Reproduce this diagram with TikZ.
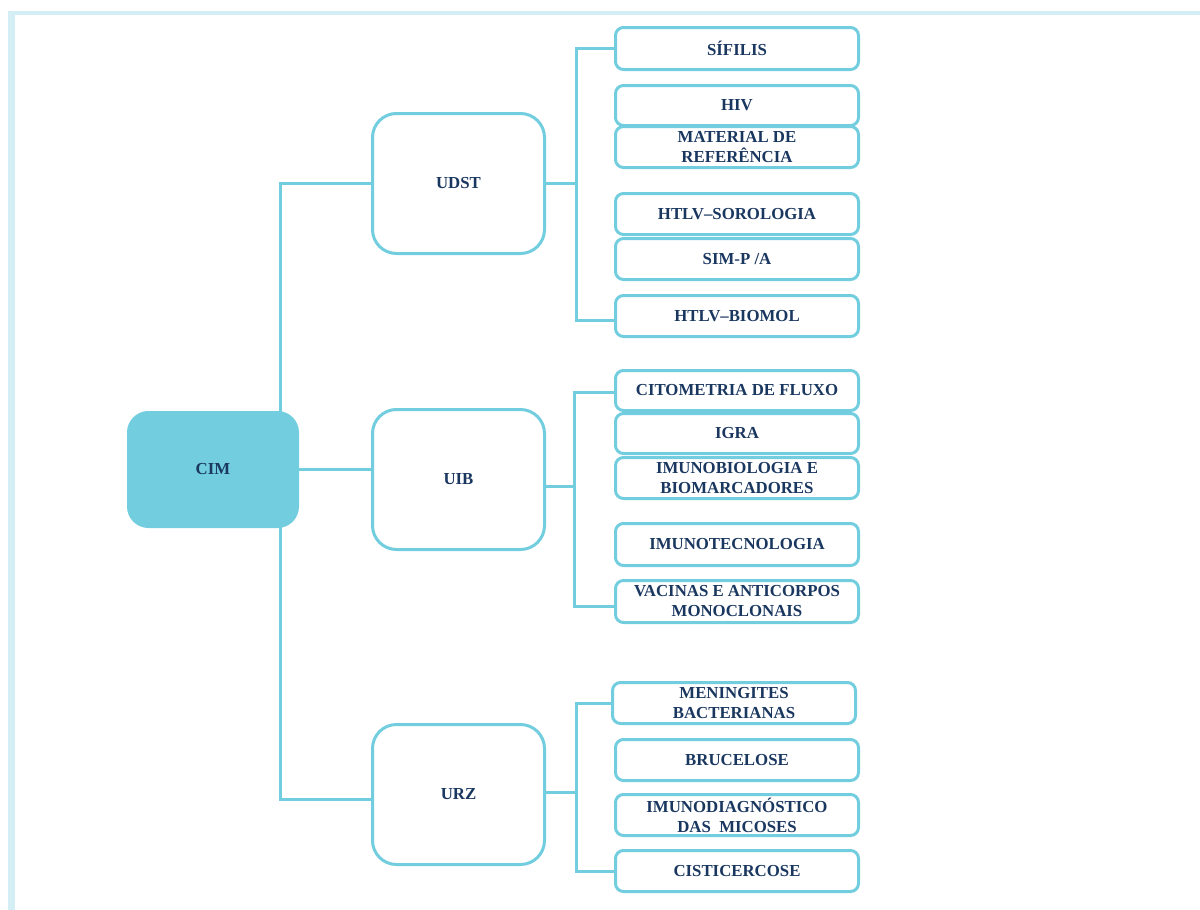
\documentclass[tikz,border=0pt]{standalone}
\usepackage{fontspec}
\setmainfont{Liberation Serif}
\definecolor{cyanline}{HTML}{72CEDF}
\definecolor{navy}{HTML}{1A3760}
\definecolor{frame}{HTML}{D4EEF5}
\begin{document}
\begin{tikzpicture}[x=1pt,y=-1pt]
\tikzset{
  box/.style={draw=cyanline, line width=3pt, rounded corners=8pt, fill=white, text=navy,
    font=\bfseries\fontsize{16.8}{20}\selectfont, align=center, inner sep=0pt},
  leaf/.style={box, minimum width=243pt, minimum height=41pt},
  unit/.style={box, rounded corners=24pt, minimum width=172pt, minimum height=140pt},
  root/.style={box, fill=cyanline, rounded corners=20pt, minimum width=169pt, minimum height=114pt},
  conn/.style={draw=cyanline, line width=3pt}
}
\useasboundingbox (0,0) rectangle (1200,910);
% frame
\fill[frame] (8,11) rectangle (1200,15);
\fill[frame] (8,11) rectangle (15,910);

% root and units
\node[root] (cim) at (213,469.5) {CIM};
\node[unit] (udst) at (458.5,183.5) {UDST};
\node[unit] (uib) at (458.5,479.5) {UIB};
\node[unit] (urz) at (458.5,794.5) {URZ};

% UDST leaves
\node[leaf, minimum height=42pt] (sif) at (737,48.5) {SÍFILIS};
\node[leaf, minimum height=40pt] (hiv) at (737,105.5) {HIV};
\node[leaf] (mat) at (737,147) {MATERIAL DE\\REFERÊNCIA};
\node[leaf] (hsor) at (737,214) {HTLV–SOROLOGIA};
\node[leaf] (sim) at (737,259) {SIM-P /A};
\node[leaf] (hbio) at (737,316) {HTLV–BIOMOL};

% UIB leaves
\node[leaf, minimum height=40pt] (cito) at (737,390.5) {CITOMETRIA DE FLUXO};
\node[leaf, minimum height=40pt] (igra) at (737,433.5) {IGRA};
\node[leaf] (imbio) at (737,478) {IMUNOBIOLOGIA E\\BIOMARCADORES};
\node[leaf, minimum height=42pt] (imtec) at (737,544.5) {IMUNOTECNOLOGIA};
\node[leaf, minimum height=42pt] (vac) at (737,601.5) {VACINAS E ANTICORPOS\\MONOCLONAIS};

% URZ leaves
\node[leaf] (men) at (734,703) {MENINGITES\\BACTERIANAS};
\node[leaf] (bru) at (737,760) {BRUCELOSE};
\node[leaf] (imdi) at (737,815) {IMUNODIAGNÓSTICO\\DAS~~MICOSES};
\node[leaf] (cis) at (737,871) {CISTICERCOSE};

% trunk from CIM
\coordinate (t1) at (280,183.5);
\coordinate (t3) at (280,799);
\draw[conn] (udst.west) -- (t1) -- (t3) -- (t3 -| urz.west);
\draw[conn] (cim.east) -- (cim.east -| uib.west);

% UDST bus
\coordinate (b1) at (576,183.5);
\draw[conn] (udst.east) -- (b1);
\draw[conn] (sif.west) -| (b1) |- ([yshift=-4pt]hbio.west);

% UIB bus
\coordinate (b2) at (574,486);
\draw[conn] (uib.east |- b2) -- (b2);
\draw[conn] ([yshift=-1.5pt]cito.west) -| (b2) |- ([yshift=-4.5pt]vac.west);

% URZ bus
\coordinate (b3) at (576,792);
\draw[conn] (urz.east |- b3) -- (b3);
\draw[conn] (men.west) -| (b3) |- (cis.west);
\end{tikzpicture}
\end{document}
